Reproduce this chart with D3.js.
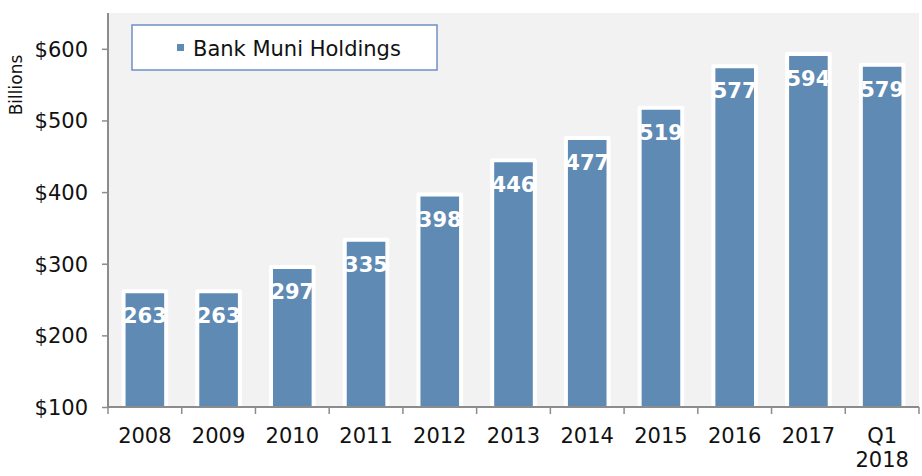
<!DOCTYPE html>
<html><head><meta charset="utf-8">
<script src="https://cdn.jsdelivr.net/npm/d3@7"></script>
<style>body{margin:0;background:#fff}svg{display:block}text{font-family:"DejaVu Sans",Verdana,sans-serif}</style>
</head><body>
<script>
const categories = ["2008","2009","2010","2011","2012","2013","2014","2015","2016","2017","Q1\n2018"];
const values = [263,263,297,335,398,446,477,519,577,594,579];
const yTicks = [100,200,300,400,500,600];
const seriesName = "Bank Muni Holdings";
const yTitle = "Billions";

const W = 922, H = 476;
const m = {left:108, right:3, top:13, bottom:69};
const svg = d3.select("body").append("svg").attr("width",W).attr("height",H);
const x = d3.scaleBand().domain(categories).range([m.left, W-m.right]).paddingInner(0).paddingOuter(0);
const y = d3.scaleLinear().domain([100,650]).range([H-m.bottom, m.top]);

svg.append("rect").attr("x",m.left).attr("y",m.top).attr("width",W-m.right-m.left).attr("height",H-m.bottom-m.top).attr("fill","#f2f2f2");

svg.append("clipPath").attr("id","clip").append("rect").attr("x",m.left).attr("y",0).attr("width",W-m.right-m.left).attr("height",H-m.bottom);
const bw = x.bandwidth()*0.578;
const g = svg.append("g").attr("clip-path","url(#clip)");
g.selectAll("rect.bar").data(values).join("rect").attr("class","bar")
  .attr("x",(d,i)=>x(categories[i])+x.bandwidth()/2-bw/2)
  .attr("y",d=>y(d)+1)
  .attr("width",bw)
  .attr("height",d=>y(100)-y(d)+4)
  .attr("fill","#5f8ab4").attr("stroke","#fff").attr("stroke-width",4).attr("stroke-linejoin","round");

svg.selectAll("text.val").data(values).join("text").attr("class","val")
  .attr("x",(d,i)=>x(categories[i])+x.bandwidth()/2)
  .attr("y",d=>y(d)+33)
  .attr("text-anchor","middle").attr("fill","#fff").attr("font-weight","bold").attr("font-size",21)
  .text(d=>d);

// y axis
const ya = svg.append("g").attr("transform",`translate(${m.left},0)`)
  .call(d3.axisLeft(y).tickValues(yTicks).tickFormat(d=>"$"+d).tickSize(6).tickSizeOuter(0));
ya.select(".domain").remove();
ya.selectAll(".tick line").attr("stroke","#8c8c8c").attr("stroke-width",1.5);
ya.selectAll(".tick text").attr("font-size",21).attr("fill","#111").attr("x",-20).attr("dy","0.35em");
svg.append("line").attr("x1",m.left).attr("x2",m.left).attr("y1",m.top).attr("y2",y(100)).attr("stroke","#8c8c8c").attr("stroke-width",2);

// x axis
svg.append("line").attr("x1",m.left).attr("x2",W-m.right).attr("y1",y(100)).attr("y2",y(100)).attr("stroke","#8c8c8c").attr("stroke-width",2);
const bounds = categories.map(c=>x(c)).concat([W-m.right]);
svg.selectAll("line.xt").data(bounds).join("line").attr("class","xt")
  .attr("x1",d=>d).attr("x2",d=>d).attr("y1",y(100)).attr("y2",y(100)+7).attr("stroke","#8c8c8c").attr("stroke-width",1.5);
svg.selectAll("text.xl").data(categories).join("text").attr("class","xl")
  .attr("x",d=>x(d)+x.bandwidth()/2).attr("y",443)
  .attr("text-anchor","middle").attr("font-size",21).attr("fill","#111")
  .each(function(d){
    const t=d3.select(this); d.split("\n").forEach((s,i)=>t.append("tspan").attr("x",x(d)+x.bandwidth()/2).attr("dy",i?24:0).text(s));
  });

// y title
svg.append("text").attr("transform","translate(22,85) rotate(-90)").attr("text-anchor","middle").attr("font-size",17).attr("fill","#111").text(yTitle);

// legend
svg.append("rect").attr("x",132).attr("y",25).attr("width",305).attr("height",45).attr("fill","#fff").attr("stroke","#6f8fc8").attr("stroke-width",1.5);
svg.append("rect").attr("x",177).attr("y",44).attr("width",7).attr("height",7).attr("fill","#5f8ab4");
svg.append("text").attr("x",193).attr("y",56).attr("font-size",21).attr("fill","#111").text(seriesName);
</script>
</body></html>
